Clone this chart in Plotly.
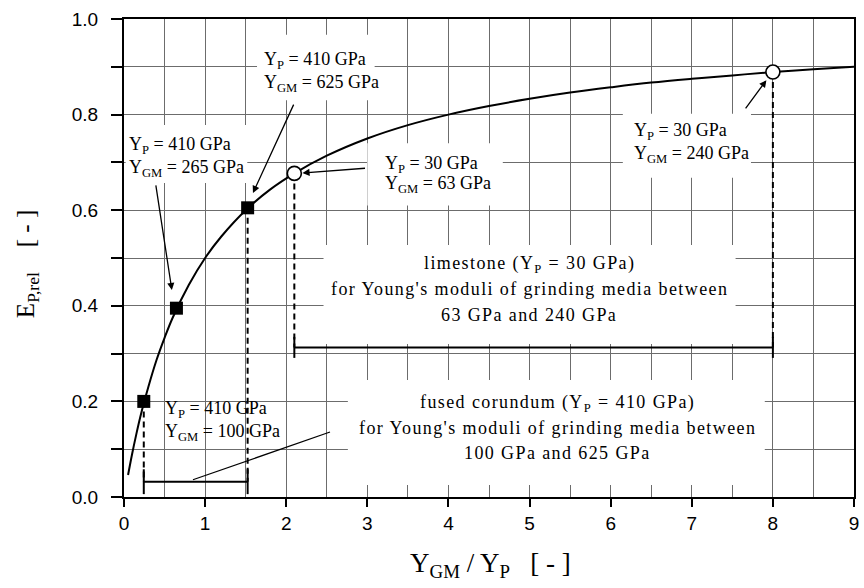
import plotly.graph_objects as go

# ---------------- data ----------------
curve_ratio = [0.05, 0.1, 0.15, 0.2, 0.3, 0.4, 0.5, 0.6, 0.8, 1.0, 1.2, 1.5, 1.8, 2.1,
               2.5, 3.0, 3.5, 4.0, 4.5, 5.0, 5.5, 6.0, 6.5, 7.0, 7.5, 8.0, 8.5, 9.0]
curve_E = [0.046, 0.09, 0.13, 0.167, 0.23, 0.286, 0.333, 0.375, 0.444, 0.50, 0.545, 0.60,
           0.643, 0.677, 0.714, 0.75, 0.778, 0.80, 0.818, 0.833, 0.846, 0.857, 0.867,
           0.875, 0.882, 0.889, 0.895, 0.90]

# fused corundum (Y_P = 410 GPa)
corundum_YP = 410
corundum_YGM = [100, 265, 625]
corundum_E = [0.20, 0.395, 0.605]

# limestone (Y_P = 30 GPa)
limestone_YP = 30
limestone_YGM = [63, 240]
limestone_E = [0.677, 0.889]

x_ticks = [0, 1, 2, 3, 4, 5, 6, 7, 8, 9]
y_ticks = [0.0, 0.2, 0.4, 0.6, 0.8, 1.0]
y_ticktext = ["0.0", "0.2", "0.4", "0.6", "0.8", "1.0"]

corundum_ratio = [g / corundum_YP for g in corundum_YGM]
limestone_ratio = [g / limestone_YP for g in limestone_YGM]

# ---------------- layout geometry ----------------
W, H = 864, 588
L, R, T, B = 124, 5, 19, 91
# reference plot frame in pixels (used to place labels)
FX0, FX1, FY0, FY1 = 124, 855, 19, 497


def px2x(px):
    return (px - FX0) / (FX1 - FX0) * 9.0


def py2y(py):
    return (FY1 - py) / (FY1 - FY0)


def px2paper(px):
    return (px - FX0) / (FX1 - FX0)


SERIF = "Liberation Serif, Times New Roman, serif"
SANS = "Liberation Sans, Arial, sans-serif"

fig = go.Figure()

# main curve
fig.add_trace(go.Scatter(x=curve_ratio, y=curve_E, mode="lines",
                         line=dict(color="black", width=2, shape="spline"),
                         showlegend=False, hoverinfo="skip"))

# dashed drop lines
br_cor_y = 0.032
br_lim_y = 0.313
for xv, yv in [(corundum_ratio[0], corundum_E[0]), (corundum_ratio[2], corundum_E[2])]:
    fig.add_trace(go.Scatter(x=[xv, xv], y=[yv, br_cor_y], mode="lines",
                             line=dict(color="black", width=2, dash="6px,4px"),
                             showlegend=False, hoverinfo="skip"))
for xv, yv in zip(limestone_ratio, limestone_E):
    fig.add_trace(go.Scatter(x=[xv, xv], y=[yv, br_lim_y], mode="lines",
                             line=dict(color="black", width=2, dash="6px,4px"),
                             showlegend=False, hoverinfo="skip"))


# brackets
def bracket(x0, x1, yb, h):
    fig.add_trace(go.Scatter(x=[x0, x0, None, x0, x1, None, x1, x1],
                             y=[yb - h, yb + h, None, yb, yb, None, yb - h, yb + h],
                             mode="lines", line=dict(color="black", width=2),
                             showlegend=False, hoverinfo="skip"))


bracket(corundum_ratio[0], corundum_ratio[2], br_cor_y, 0.026)
bracket(limestone_ratio[0], limestone_ratio[1], br_lim_y, 0.022)

# pointer line from corundum bracket to its label
fig.add_trace(go.Scatter(x=[0.85, 2.54], y=[0.036, 0.136], mode="lines",
                         line=dict(color="black", width=1.2),
                         showlegend=False, hoverinfo="skip"))

# markers
fig.add_trace(go.Scatter(x=corundum_ratio, y=corundum_E, mode="markers",
                         marker=dict(symbol="square", size=13, color="black"),
                         showlegend=False, hoverinfo="skip"))
fig.add_trace(go.Scatter(x=limestone_ratio, y=limestone_E, mode="markers",
                         marker=dict(symbol="circle", size=14, color="white",
                                     line=dict(color="black", width=1.6)),
                         showlegend=False, hoverinfo="skip"))

# white boxes covering grid behind labels (between grid and traces)
boxes = [
    (1.64, 3.09, 0.83, 0.967),
    (0.02, 1.52, 0.657, 0.778),
    (3.00, 4.67, 0.61, 0.74),
    (6.15, 7.73, 0.668, 0.802),
    (2.46, 7.54, 0.32, 0.527),
    (2.76, 7.90, 0.025, 0.245),
]
for x0, x1, y0, y1 in boxes:
    fig.add_shape(type="rect", x0=x0, x1=x1, y0=y0, y1=y1, xref="x", yref="y",
                  fillcolor="white", line=dict(width=0), layer="between")

annotations = []


def text_line(txt, px, py, anchor="left", size=18):
    annotations.append(dict(text=txt, x=px2x(px), y=py2y(py), xref="x", yref="y",
                            xanchor=anchor, yanchor="middle", showarrow=False,
                            font=dict(family=SERIF, size=size, color="black")))


def arrow(x_tip, y_tip, x_tail, y_tail):
    annotations.append(dict(text="", x=x_tip, y=y_tip, ax=x_tail, ay=y_tail,
                            xref="x", yref="y", axref="x", ayref="y",
                            showarrow=True, arrowhead=2, arrowsize=1.1,
                            arrowwidth=1.3, arrowcolor="black", standoff=0))


# point labels
text_line("Y<sub>P</sub> = 410 GPa", 262, 60)
text_line("Y<sub>GM</sub> = 625 GPa", 262, 83)
text_line("Y<sub>P</sub> = 410 GPa", 127, 145)
text_line("Y<sub>GM</sub> = 265 GPa", 127, 168)
text_line("Y<sub>P</sub> = 30 GPa", 383, 164)
text_line("Y<sub>GM</sub> = 63 GPa", 383, 184)
text_line("Y<sub>P</sub> = 30 GPa", 633, 131)
text_line("Y<sub>GM</sub> = 240 GPa", 633, 154)
text_line("Y<sub>P</sub> = 410 GPa", 163, 409)
text_line("Y<sub>GM</sub> = 100 GPa", 163, 432)

SP = '<span style="letter-spacing:1.4px">%s</span>'
text_line(SP % "limestone (Y<sub>P</sub> = 30 GPa)", 530, 264, "center")
text_line(SP % "for Young's moduli of grinding media between", 530, 289, "center")
text_line(SP % "63 GPa and 240 GPa", 530, 315, "center")
text_line(SP % "fused corundum (Y<sub>P</sub> = 410 GPa)", 558, 403, "center")
text_line(SP % "for Young's moduli of grinding media between", 558, 428, "center")
text_line(SP % "100 GPa and 625 GPa", 558, 453, "center")

# arrows
arrow(1.59, 0.636, 2.10, 0.824)
arrow(0.59, 0.433, 0.39, 0.655)
arrow(2.20, 0.678, 2.99, 0.688)
arrow(7.92, 0.872, 7.65, 0.81)

# axis titles
annotations.append(dict(text="Y<sub>GM</sub> / Y<sub>P</sub>\u00a0\u00a0\u00a0[ - ]",
                        x=px2paper(491), y=py2y(565), xref="paper", yref="paper",
                        xanchor="center", yanchor="middle", showarrow=False,
                        font=dict(family=SERIF, size=27, color="black")))
annotations.append(dict(text="E<sub>P,rel</sub>\u00a0\u00a0\u00a0\u00a0[ - ]",
                        x=px2paper(27), y=py2y(264), xref="paper", yref="paper",
                        xanchor="center", yanchor="middle", textangle=-90, showarrow=False,
                        font=dict(family=SERIF, size=25, color="black")))

GRID = "#6c6c6c"
fig.update_layout(
    width=W, height=H,
    margin=dict(l=L, r=R, t=T, b=B),
    paper_bgcolor="white", plot_bgcolor="white",
    showlegend=False,
    annotations=annotations,
    xaxis=dict(range=[0, 9], tickvals=x_ticks, ticks="outside", ticklen=8,
               tickwidth=1.5, tickcolor="black", showline=True, linecolor="black",
               linewidth=2, mirror=True, showgrid=True, gridcolor=GRID, gridwidth=1,
               zeroline=False, tickfont=dict(family=SANS, size=19, color="black"),
               minor=dict(dtick=0.5, showgrid=True, gridcolor=GRID, gridwidth=1,
                          ticks=""),
               fixedrange=True),
    yaxis=dict(range=[0, 1], tickvals=y_ticks, ticktext=y_ticktext, ticks="outside",
               ticklen=11, tickwidth=1.5, tickcolor="black", showline=True,
               linecolor="black", linewidth=2, mirror=True, showgrid=True,
               gridcolor=GRID, gridwidth=1, zeroline=False,
               ticklabelstandoff=9,
               minor=dict(dtick=0.1, showgrid=True, gridcolor=GRID, gridwidth=1,
                          ticks="outside", ticklen=11, tickwidth=1.5, tickcolor="black"),
               tickfont=dict(family=SANS, size=19, color="black"), fixedrange=True),
)

fig.write_html("out.html", config={"displayModeBar": False},
               post_script="document.body.style.margin='0';"
                           "document.body.style.overflow='hidden';")
